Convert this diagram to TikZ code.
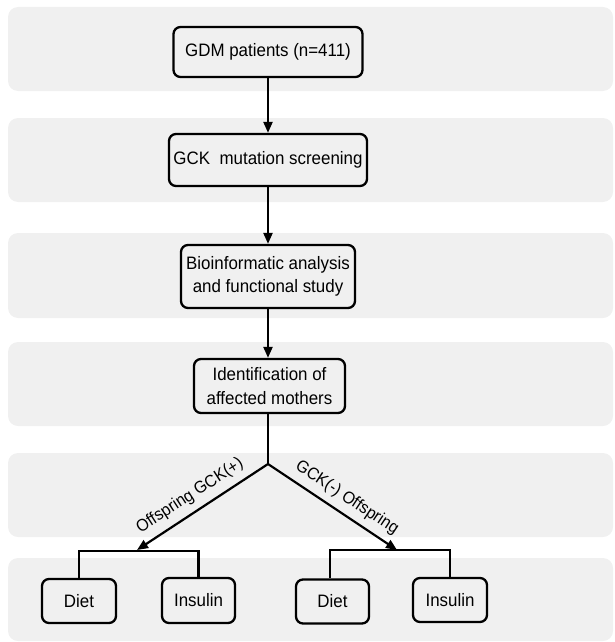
\documentclass[tikz,border=0pt]{standalone}
\usepackage{fontspec}
\setmainfont[FakeStretch=0.94]{Liberation Sans}
\usetikzlibrary{arrows.meta}
\definecolor{bandgray}{HTML}{F0F0F0}
\tikzset{
  band/.style={fill=bandgray, rounded corners=10pt},
  box/.style={draw=black, line width=2.3pt, rounded corners=7pt, inner sep=0pt, align=center,
    font=\fontsize{18}{23.5}\selectfont},
  conn/.style={line width=2.2pt, draw=black},
  arr/.style={conn, -{Triangle[length=11pt,width=9pt]}},
  lbl/.style={font=\fontsize{17}{19}\selectfont, inner sep=0pt}
}
\begin{document}
\begin{tikzpicture}[x=1pt,y=-1pt]
\useasboundingbox (0,0) rectangle (614,642);
% bands
\fill[band] (8,7) rectangle (613,91);
\fill[band] (8,118) rectangle (613,202);
\fill[band] (8,233) rectangle (613,318);
\fill[band] (8,342) rectangle (613,426);
\fill[band] (8,453) rectangle (613,537);
\fill[band] (8,558) rectangle (613,641);
% main boxes
\node[box, minimum width=189pt, minimum height=50pt] (b1) at (268,52) {GDM patients (n=411)};
\node[box, minimum width=198pt, minimum height=52pt] (b2) at (268,160) {GCK\ \ mutation screening};
\node[box, minimum width=174pt, minimum height=63pt] (b3) at (268,276.5) {Bioinformatic analysis\\and functional study};
\node[box, minimum width=151pt, minimum height=54pt] (b4) at (269.5,386) {Identification of\\affected mothers};
% bottom boxes
\node[box, minimum width=74pt, minimum height=44pt] (d1) at (79,601) {Diet};
\node[box, minimum width=73pt, minimum height=45pt] (i1) at (198.5,600.5) {Insulin};
\node[box, minimum width=73pt, minimum height=44pt] (d2) at (332.5,601.5) {Diet};
\node[box, minimum width=74pt, minimum height=44pt] (i2) at (450,600) {Insulin};
% vertical arrows
\draw[arr] (b1.south -| 268,0) -- (b2.north -| 268,0);
\draw[arr] (b2.south -| 268,0) -- (b3.north -| 268,0);
\draw[arr] (b3.south -| 268,0) -- (b4.north -| 268,0);
% branch
\coordinate (br) at (268,464);
\coordinate (lt) at (137,550);
\coordinate (rt) at (397,550);
\draw[conn] (b4.south -| 268,0) -- (br);
\draw[arr] (br) -- (lt);
\draw[arr] (br) -- (rt);
% brackets
\coordinate (lb) at (79,551);
\coordinate (rb) at (330,550);
\draw[conn] (d1.north) |- (lb) -| (i1.north);
\draw[conn] (d2.north -| rb) |- (rb) -| (i2.north);
% labels
\node[lbl, rotate=33] (l1) at (190,496) {Offspring GCK(+)};
\node[lbl, rotate=-33.5] (l2) at (347,498) {GCK(-) Offspring};
\end{tikzpicture}
\end{document}
